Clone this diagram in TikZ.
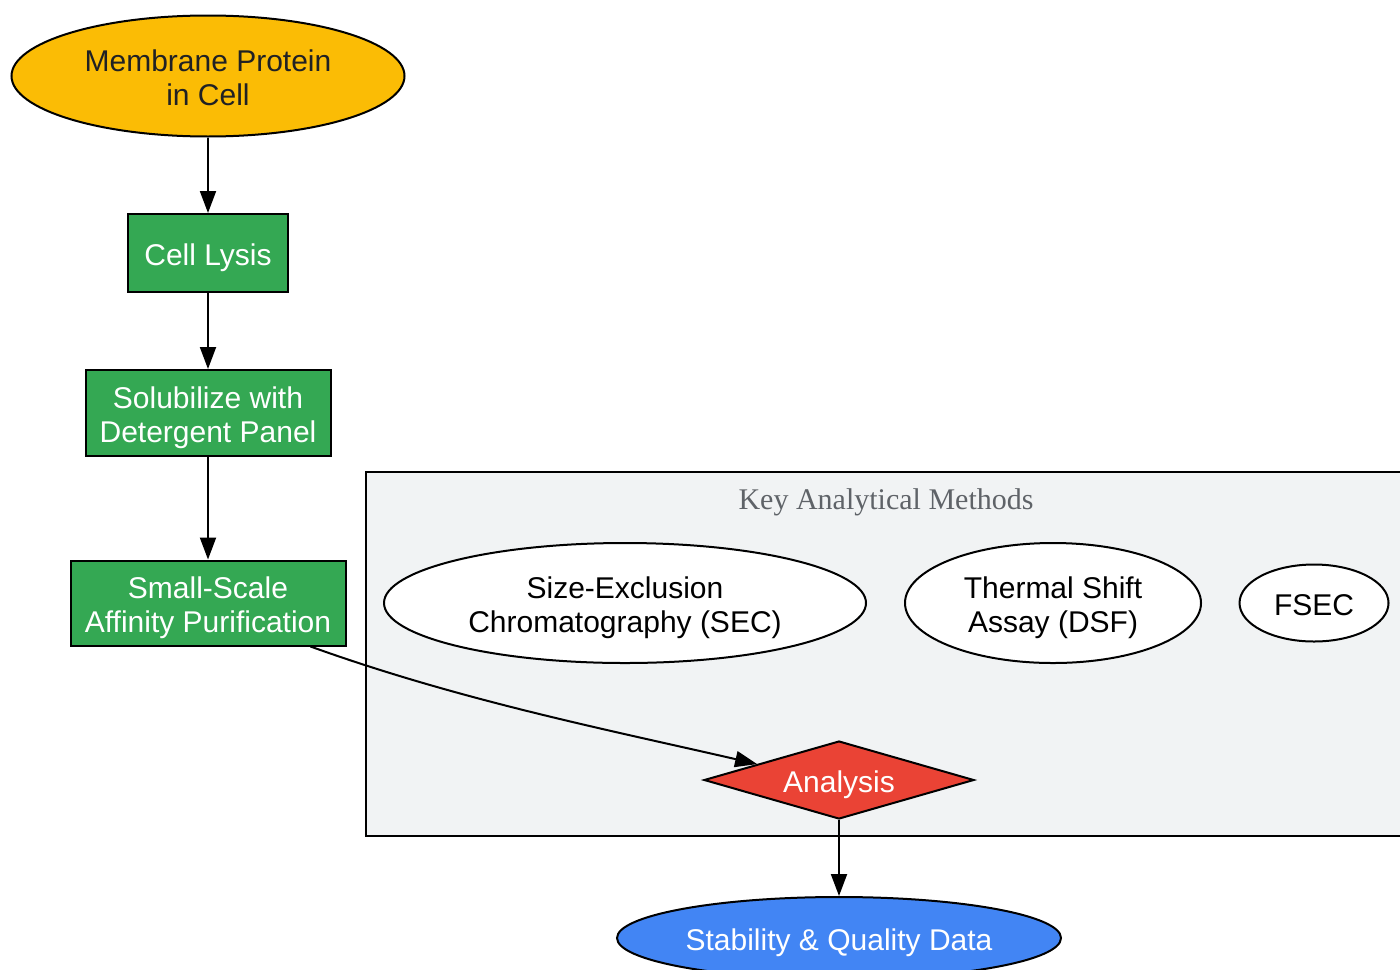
\documentclass[tikz,border=0pt]{standalone}
\usepackage{fontspec}
\setmainfont{Liberation Sans}
\newfontfamily\clusterfont{Liberation Serif}
\usetikzlibrary{arrows.meta}
\usetikzlibrary{shapes.geometric}
\definecolor{protyellow}{HTML}{FBBC05}
\definecolor{stepgreen}{HTML}{34A853}
\definecolor{analysisred}{HTML}{EA4335}
\definecolor{datablue}{HTML}{4285F4}
\definecolor{clusterfill}{HTML}{F1F3F4}
\definecolor{clustertext}{HTML}{5F6368}
\definecolor{darktext}{HTML}{202124}

\begin{document}
\begin{tikzpicture}[x=0.5pt,y=-0.5pt,->,>={Triangle[length=11pt,width=8pt]},line width=1pt,
  every node/.style={font=\fontsize{15}{17}\selectfont,align=center,inner sep=0pt,draw=black,line width=1pt,
    execute at begin node=\rule{0pt}{17pt},text depth=4.3pt},
  two lines/.style={execute at begin node=\rule{0pt}{34pt}},
  step node/.style={rectangle,fill=stepgreen,text=white},
  method node/.style={ellipse,fill=white,text=black}]

\useasboundingbox (0,0) rectangle (1400,969);

% cluster
\path[draw=black,fill=clusterfill,-] (366,472) rectangle (1410,836);
\node[draw=none,font=\clusterfont\fontsize{15}{17}\selectfont,text=clustertext] (title) at (886,497) {Key Analytical Methods};

\node[ellipse,two lines,fill=protyellow,text=darktext,minimum width=196.5pt,minimum height=60.5pt] (memb) at (208,76) {Membrane Protein\\in Cell};
\node[step node,minimum width=80pt,minimum height=39pt] (lysis) at (208,253) {Cell Lysis};
\node[step node,two lines,minimum width=122.5pt,minimum height=43pt] (solub) at (208,413) {Solubilize with\\Detergent Panel};
\node[step node,two lines,minimum width=137.5pt,minimum height=42.5pt] (purif) at (208,603) {Small-Scale\\Affinity Purification};

\node[method node,two lines,minimum width=241pt,minimum height=60pt] (sec) at (625,603) {Size-Exclusion\\Chromatography (SEC)};
\node[method node,two lines,minimum width=148pt,minimum height=60pt] (dsf) at (1053,603) {Thermal Shift\\Assay (DSF)};
\node[method node,minimum width=74.5pt,minimum height=38.5pt] (fsec) at (1314,603) {FSEC};

\node[diamond,aspect=3.5,fill=analysisred,text=white,minimum width=135pt,minimum height=39pt] (analysis) at (839,780) {Analysis};
\node[ellipse,fill=datablue,text=white,minimum width=222pt,minimum height=41pt] (data) at (839,938) {Stability \& Quality Data};

\path
(memb)  edge (lysis)
(lysis) edge (solub)
(solub) edge (purif)
(analysis) edge (data);

\draw (purif.-23) .. controls +(150,54) and +(-150,-34.5) .. (analysis.169);
\end{tikzpicture}
\end{document}
